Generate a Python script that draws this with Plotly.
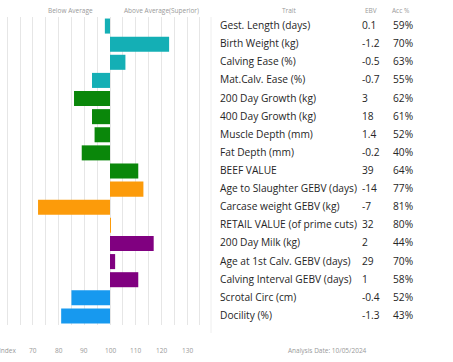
import plotly.graph_objects as go

traits = ["Gest. Length (days)", "Birth Weight (kg)", "Calving Ease (%)", "Mat.Calv. Ease (%)",
          "200 Day Growth (kg)", "400 Day Growth (kg)", "Muscle Depth (mm)", "Fat Depth (mm)",
          "BEEF VALUE", "Age to Slaughter GEBV (days)", "Carcase weight GEBV (kg)",
          "RETAIL VALUE (of prime cuts)", "200 Day Milk (kg)", "Age at 1st Calv. GEBV (days)",
          "Calving Interval GEBV (days)", "Scrotal Circ (cm)", "Docility (%)"]
ebv = ["0.1", "-1.2", "-0.5", "-0.7", "3", "18", "1.4", "-0.2", "39", "-14", "-7", "32",
       "2", "29", "1", "-0.4", "-1.3"]
acc = ["59%", "70%", "63%", "55%", "62%", "61%", "52%", "40%", "64%", "77%", "81%", "80%",
       "44%", "70%", "58%", "52%", "43%"]
index_vals = [98, 123, 106, 93, 86, 93, 94, 89, 111, 113, 72, 100.3, 117, 102, 111, 85, 81]
groups = ["calving"] * 4 + ["growth"] * 5 + ["carcase"] * 3 + ["maternal"] * 3 + ["other"] * 2
tick_values = [60, 70, 80, 90, 100, 110, 120, 130, 140]
tick_labels = ["Index", "70", "80", "90", "100", "110", "120", "130", "Index"]

group_colors = {"calving": "#14AFB5", "growth": "#0A870A", "carcase": "#FC9B0A",
                "maternal": "#800080", "other": "#1799EF"}

rows = list(range(len(traits)))
W, H = 453, 362

scr_plot_left, scr_plot_right = 0, 205
scr_plot_top, scr_plot_bot = 17, 325
T = scr_plot_top
B = H - scr_plot_bot
PW = scr_plot_right - scr_plot_left
PH = H - T - B

scale = 2.57  # px per index unit
x0 = 100 - (110 - scr_plot_left) / scale
x1 = x0 + PW / scale

fig = go.Figure()
fig.add_trace(go.Bar(
    x=[v - 100 for v in index_vals], base=100, y=rows, orientation="h",
    marker=dict(color=[group_colors[g] for g in groups], line=dict(width=0)),
    width=0.83, hoverinfo="skip"))

fig.update_layout(
    width=W, height=H, margin=dict(l=0, r=0, t=T, b=B),
    paper_bgcolor="white", plot_bgcolor="white", showlegend=False,
    font=dict(family="Open Sans, sans-serif", color="#222"),
    xaxis=dict(domain=[0, PW / W], range=[x0, x1], dtick=5, tick0=60,
               showgrid=True, gridcolor="#e6e6e6", gridwidth=1, zeroline=False,
               showticklabels=False, ticks=""),
    yaxis=dict(range=[len(traits) - 0.5, -0.5], showgrid=False, zeroline=False,
               showticklabels=False, ticks=""),
)

def px_x(scr_px):
    return scr_px / W

def px_y(scr_py):
    return ((H - B) - scr_py) / PH

ann = []
row_font = dict(size=10.2, color="#262626")
for i, t in enumerate(traits):
    for txt, sx in [(t, 218), (ebv[i], 360), (acc[i], 391)]:
        ann.append(dict(x=px_x(sx), xref="paper", y=i, yref="y", text=txt, showarrow=False,
                        xanchor="left", yanchor="middle", font=row_font, yshift=1))

hdr_font = dict(size=6.5, color="#999")
for txt, cx in [("Trait", 289), ("EBV", 371), ("Acc %", 401),
                ("Below Average", 70), ("Above Average(Superior)", 161)]:
    ann.append(dict(x=px_x(cx), xref="paper", y=px_y(10), yref="paper", text=txt,
                    showarrow=False, xanchor="center", yanchor="middle", font=hdr_font))

for v, lab in zip(tick_values, tick_labels):
    ann.append(dict(x=v, xref="x", y=px_y(350), yref="paper",
                    text=lab, showarrow=False, xanchor="center", yanchor="middle",
                    font=dict(size=6.5, color="#999")))
ann.append(dict(x=px_x(327), xref="paper", y=px_y(350), yref="paper",
                text="Analysis Date: 10/05/2024", showarrow=False, xanchor="center",
                yanchor="middle", font=dict(size=6.5, color="#999")))

fig.update_layout(annotations=ann)
fig.add_shape(type="line", xref="paper", yref="paper", x0=px_x(211), x1=px_x(211),
              y0=px_y(333), y1=1.0, line=dict(color="#eeeeee", width=1))
fig.write_html("out.html", config={"displayModeBar": False},
               post_script="document.body.style.margin='0';document.body.style.padding='0';")
